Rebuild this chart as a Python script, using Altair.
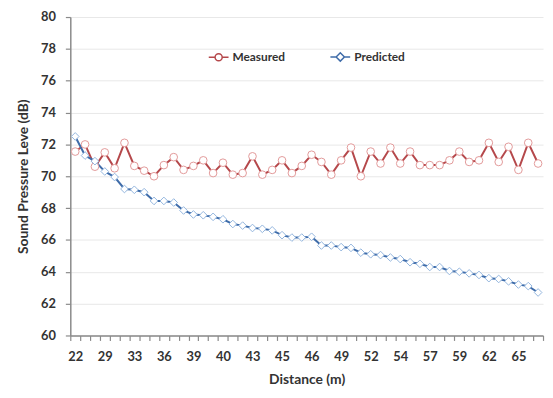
import altair as alt
import pandas as pd

# x tick labels shown under every third category (48 categories)
x_labels = ["22", "29", "33", "36", "39", "40", "43", "45", "46", "49",
            "52", "54", "57", "59", "62", "65"]

measured = [71.55, 72.0, 70.6, 71.5, 70.5, 72.1, 70.65, 70.35, 70.0, 70.7,
            71.2, 70.4, 70.65, 71.0, 70.2, 70.85, 70.1, 70.2, 71.25, 70.1,
            70.4, 71.0, 70.2, 70.65, 71.35, 70.9, 70.1, 71.0, 71.8, 70.0,
            71.55, 70.8, 71.8, 70.8, 71.55, 70.7, 70.7, 70.7, 71.0, 71.55,
            70.9, 71.0, 72.1, 70.9, 71.85, 70.4, 72.1, 70.8]

predicted = [72.5, 71.3, 70.95, 70.3, 69.95, 69.2, 69.15, 69.0, 68.45, 68.45,
             68.35, 67.85, 67.6, 67.55, 67.45, 67.3, 67.0, 66.9, 66.75, 66.7,
             66.6, 66.3, 66.15, 66.15, 66.2, 65.65, 65.65, 65.55, 65.5, 65.2,
             65.1, 65.05, 64.9, 64.8, 64.6, 64.5, 64.3, 64.3, 64.05, 64.0,
             63.9, 63.8, 63.6, 63.55, 63.4, 63.2, 63.1, 62.7]

series_names = ["Measured", "Predicted"]
line_colors = ["#B5484B", "#3F6CA9"]
marker_colors = ["#E29A9A", "#93B5DE"]

rows = []
for name, vals in zip(series_names, [measured, predicted]):
    for i, v in enumerate(vals):
        rows.append({"idx": i, "series": name, "value": v})
df = pd.DataFrame(rows)

n = len(measured)
js_labels = "[" + ",".join("'" + s + "'" for s in x_labels) + "]"
label_expr = ("((datum.value + 0.5) % 3 == 0) && datum.value < " + str(len(x_labels) * 3)
              + " ? " + js_labels + "[(datum.value + 0.5) / 3] : ''")

FONT = "Lato"
TXT = "#333333"

x_enc = alt.X(
    "idx:Q",
    scale=alt.Scale(domain=[-0.5, n - 0.5], nice=False, zero=False),
    axis=alt.Axis(
        title="Distance (m)",
        values=[i - 0.5 for i in range(n + 1)],
        labelExpr=label_expr,
        labelOffset=5,
        labelFlush=False,
        labelOverlap=False,
        labelAngle=0,
        labelAlign="center",
        grid=False,
        tickSize=5,
        labelPadding=10,
        titlePadding=10,
    ),
)

y_enc = alt.Y(
    "value:Q",
    scale=alt.Scale(domain=[60, 80], nice=False, zero=False),
    axis=alt.Axis(
        title="Sound Pressure Leve (dB)",
        values=list(range(60, 81, 2)),
        grid=True,
        tickSize=5,
        labelPadding=10,
        titlePadding=10,
    ),
)

# legend symbols: short line stubs with the series marker in the middle
circle_leg = "M-1,0H-0.36M0.36,0H1M-0.36,0A0.36,0.36,0,1,1,0.36,0A0.36,0.36,0,1,1,-0.36,0Z"
diamond_leg = "M-1,0H-0.42M0.42,0H1M-0.42,0L0,-0.42L0.42,0L0,0.42Z"

legend = alt.Legend(
    title=None,
    orient="none",
    legendX=139,
    legendY=29,
    direction="horizontal",
    labelFont=FONT,
    labelFontSize=12,
    labelFontWeight="bold",
    labelColor=TXT,
    symbolSize=400,
    symbolStrokeWidth=1.5,
    symbolFillColor="white",
    columnPadding=42,
    labelOffset=3,
)

lines = alt.Chart(df).mark_line(strokeWidth=2).encode(
    x=x_enc,
    y=y_enc,
    color=alt.Color("series:N", scale=alt.Scale(domain=series_names, range=line_colors), legend=None),
)

points = alt.Chart(df).mark_point(filled=False, fill="white", fillOpacity=1, opacity=1, size=60, strokeWidth=1).encode(
    x=x_enc,
    y=y_enc,
    stroke=alt.Stroke("series:N", scale=alt.Scale(domain=series_names, range=marker_colors), legend=None),
    shape=alt.Shape("series:N", scale=alt.Scale(domain=series_names, range=["circle", "diamond"]), legend=None),
)

legend_layer = alt.Chart(df).transform_filter("false").mark_point(filled=False, opacity=1).encode(
    x=x_enc,
    y=y_enc,
    color=alt.Color("series:N", scale=alt.Scale(domain=series_names, range=line_colors), legend=legend),
    shape=alt.Shape("series:N", scale=alt.Scale(domain=series_names, range=[circle_leg, diamond_leg]), legend=legend),
)

chart = alt.layer(lines, points, legend_layer).resolve_scale(
    shape="independent", color="independent"
).properties(
    width=478,
    height=322,
    autosize=alt.AutoSizeParams(type="none"),
    padding={"left": 63, "top": 7, "right": 2, "bottom": 53},
    background="white",
).configure_view(stroke=None).configure_axis(
    labelFont=FONT,
    labelFontSize=13,
    labelFontWeight="bold",
    labelColor=TXT,
    titleFont=FONT,
    titleFontSize=14,
    titleFontWeight="bold",
    titleColor=TXT,
    domainColor="#8a8a8a",
    domainWidth=1.5,
    tickColor="#8a8a8a",
    tickWidth=1.2,
    gridColor="#e8e8e8",
    gridWidth=1,
)

chart.save("out.html", embed_options={"renderer": "svg", "actions": False})
